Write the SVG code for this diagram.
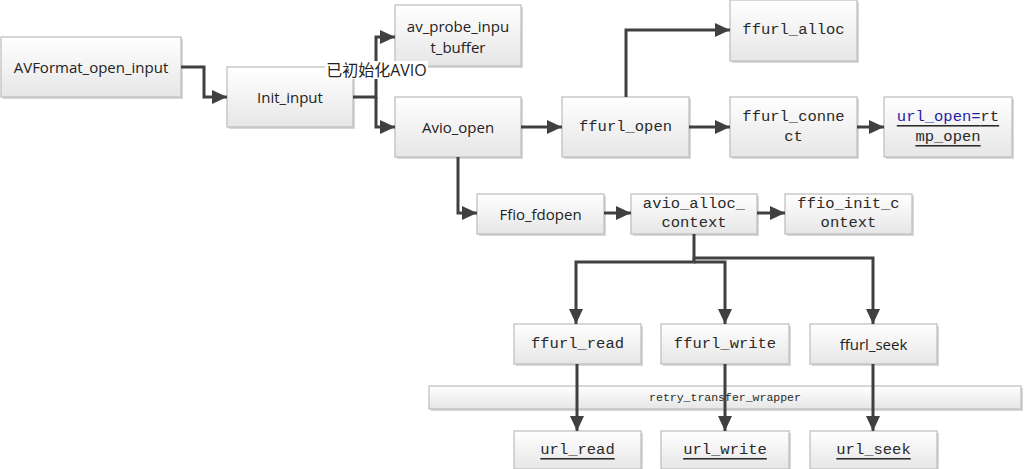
<svg xmlns="http://www.w3.org/2000/svg" width="1024" height="469" viewBox="0 0 1024 469">
<defs>
<linearGradient id="g" x1="0" y1="0" x2="0" y2="1">
<stop offset="0" stop-color="#ffffff"/>
<stop offset="1" stop-color="#e6e6e6"/>
</linearGradient>
<marker id="arr" markerUnits="userSpaceOnUse" markerWidth="16" markerHeight="16" viewBox="0 0 16 16" refX="15" refY="8" orient="auto">
<path d="M0,1 L15,8 L0,15 Z" fill="#404040"/>
</marker>
</defs>
<style>
.box{fill:url(#g);stroke:#bcbcbc;stroke-width:1.2}
.sh{fill:#d8d8d8}
.s{font-family:"Open Sans","Liberation Sans",sans-serif;font-size:15px;fill:#222;text-anchor:middle;dominant-baseline:central}
.m{font-family:"Liberation Mono","DejaVu Sans Mono",monospace;font-size:15.5px;fill:#2a2a2a;text-anchor:middle;dominant-baseline:central}
.u{text-decoration:underline}
.c{fill:none;stroke:#404040;stroke-width:3}
.ca{fill:none;stroke:#404040;stroke-width:3;marker-end:url(#arr)}
</style>
<rect width="1024" height="469" fill="#ffffff"/>

<g id="retry">
<rect x="431" y="388" width="592" height="23" class="sh"/>
<rect x="429" y="386" width="592" height="23" class="box"/>
<text x="725" y="397.5" class="m" style="font-size:11.5px">retry_transfer_wrapper</text>
</g>

<g id="n1"><rect x="3" y="39" width="180" height="60" class="sh"/><rect x="1" y="37" width="180" height="60" class="box"/><text x="91" y="67" class="s">AVFormat_open_input</text></g>
<g id="n2"><rect x="229" y="69" width="126" height="60" class="sh"/><rect x="227" y="67" width="126" height="60" class="box"/><text x="290" y="97" class="s">Init_input</text></g>
<g id="n3"><rect x="397" y="7" width="126" height="61" class="sh"/><rect x="395" y="5" width="126" height="61" class="box"/><text x="458" y="26" class="s">av_probe_inpu</text><text x="458" y="47" class="s">t_buffer</text></g>
<g id="n4"><rect x="397" y="99" width="126" height="60" class="sh"/><rect x="395" y="97" width="126" height="60" class="box"/><text x="458" y="127" class="s">Avio_open</text></g>
<g id="n5"><rect x="564" y="99" width="127" height="60" class="sh"/><rect x="562" y="97" width="127" height="60" class="box"/><text x="625.5" y="127" class="m">ffurl_open</text></g>
<g id="n6"><rect x="732" y="2" width="127" height="61" class="sh"/><rect x="730" y="0" width="127" height="61" class="box"/><text x="793.5" y="30" class="m">ffurl_alloc</text></g>
<g id="n7"><rect x="732" y="99" width="127" height="60" class="sh"/><rect x="730" y="97" width="127" height="60" class="box"/><text x="793.5" y="117" class="m">ffurl_conne</text><text x="793.5" y="137" class="m">ct</text></g>
<g id="n8"><rect x="886" y="99" width="128" height="60" class="sh"/><rect x="884" y="97" width="128" height="60" class="box"/><text x="948" y="117" class="m u"><tspan fill="#1f1fa8">url_open=</tspan>rt</text><text x="948" y="137" class="m u">mp_open</text></g>
<g id="n9"><rect x="479" y="196" width="127" height="40" class="sh"/><rect x="477" y="194" width="127" height="40" class="box"/><text x="540.5" y="214" class="s">Ffio_fdopen</text></g>
<g id="n10"><rect x="633" y="196" width="126" height="40" class="sh"/><rect x="631" y="194" width="126" height="40" class="box"/><text x="694" y="204" class="m">avio_alloc_</text><text x="694" y="223" class="m">context</text></g>
<g id="n11"><rect x="787" y="196" width="127" height="40" class="sh"/><rect x="785" y="194" width="127" height="40" class="box"/><text x="848.5" y="204" class="m">ffio_init_c</text><text x="848.5" y="223" class="m">ontext</text></g>
<g id="n12"><rect x="516" y="326" width="127" height="40" class="sh"/><rect x="514" y="324" width="127" height="40" class="box"/><text x="577.5" y="344" class="m">ffurl_read</text></g>
<g id="n13"><rect x="663" y="326" width="128" height="40" class="sh"/><rect x="661" y="324" width="128" height="40" class="box"/><text x="725" y="344" class="m">ffurl_write</text></g>
<g id="n14"><rect x="812" y="326" width="127" height="40" class="sh"/><rect x="810" y="324" width="127" height="40" class="box"/><text x="873.5" y="344" class="s">ffurl_seek</text></g>
<g id="n15"><rect x="516" y="433" width="127" height="38" class="sh"/><rect x="514" y="431" width="127" height="38" class="box"/><text x="577.5" y="450" class="m u">url_read</text></g>
<g id="n16"><rect x="663" y="433" width="128" height="38" class="sh"/><rect x="661" y="431" width="128" height="38" class="box"/><text x="725" y="450" class="m u">url_write</text></g>
<g id="n17"><rect x="812" y="433" width="127" height="38" class="sh"/><rect x="810" y="431" width="127" height="38" class="box"/><text x="873.5" y="450" class="m u">url_seek</text></g>

<g id="connectors">
<path d="M181,67 H204 V97 H227" class="ca"/>
<path d="M353,97 H376 V37 H395" class="ca"/>
<path d="M376,97 V127 H395" class="ca"/>
<path d="M521,127 H562" class="ca"/>
<path d="M689,127 H730" class="ca"/>
<path d="M626,97 V30 H730" class="ca"/>
<path d="M857,127 H884" class="ca"/>
<path d="M458,157 V213 H477" class="ca"/>
<path d="M604,213 H631" class="ca"/>
<path d="M757,213 H785" class="ca"/>
<path d="M694,234 V258 H873 V324" class="ca"/>
<path d="M694,258 V262 H576 V324" class="ca"/>
<path d="M694,262 H725 V324" class="ca"/>
<path d="M577,364 V431" class="ca"/>
<path d="M725,364 V431" class="ca"/>
<path d="M873,364 V431" class="ca"/>
</g>

<g id="label">
<rect x="325" y="61" width="103" height="18" fill="#ffffff"/>
<text x="376.5" y="70" style="font-family:'Open Sans','Noto Sans CJK SC',sans-serif;font-size:16px;fill:#222;text-anchor:middle;dominant-baseline:central">已初始化AVIO</text>
</g>
</svg>
